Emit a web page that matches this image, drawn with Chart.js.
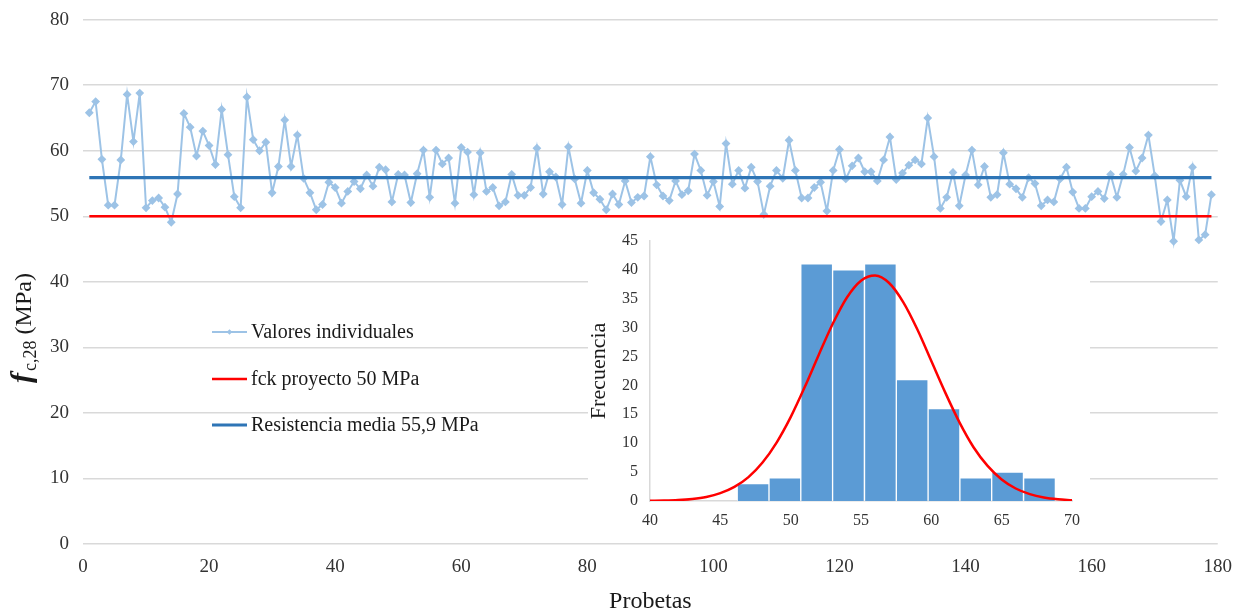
<!DOCTYPE html>
<html><head><meta charset="utf-8">
<script src="https://cdn.jsdelivr.net/npm/chart.js@4.4.1/dist/chart.umd.min.js"></script>
<style>
html,body{margin:0;padding:0;background:#fff;}
#wrap{position:relative;width:1244px;height:614px;overflow:hidden;}
#main{position:absolute;left:0;top:0;}
#inset{position:absolute;left:588px;top:224px;background:#fff;}
</style></head><body>
<div id="wrap"><canvas id="main" width="1244" height="614"></canvas><canvas id="inset" width="502" height="309"></canvas></div>
<script>
// ---- Main chart data ----
const valoresIndividuales = [
65.8,67.5,58.7,51.7,51.7,58.6,68.6,61.4,68.8,51.3,
52.4,52.8,51.4,49.1,53.4,65.7,63.6,59.2,63.0,60.8,
57.9,66.3,59.4,53.0,51.3,68.2,61.7,60.0,61.3,53.6,
57.6,64.7,57.6,62.4,55.8,53.6,51.0,51.8,55.2,54.4,
52.0,53.8,55.3,54.2,56.3,54.6,57.5,57.1,52.2,56.4,
56.3,52.1,56.5,60.1,52.9,60.1,58.0,58.9,52.0,60.5,
59.8,53.3,59.7,53.8,54.4,51.6,52.2,56.4,53.2,53.2,
54.4,60.4,53.4,56.8,56.0,51.8,60.6,55.7,52.0,57.0,
53.6,52.6,51.0,53.4,51.8,55.4,52.1,52.9,53.1,59.1,
54.8,53.1,52.4,55.4,53.3,53.9,59.5,57.0,53.2,55.3,
51.5,61.1,54.9,57.0,54.3,57.5,55.3,50.3,54.6,57.0,
55.8,61.6,57.0,52.8,52.8,54.4,55.2,50.8,57.0,60.2,
55.7,57.7,58.9,56.8,56.8,55.4,58.6,62.1,55.6,56.6,
57.8,58.6,58.0,65.0,59.1,51.2,52.9,56.7,51.6,56.3,
60.1,54.8,57.6,52.9,53.3,59.7,54.9,54.2,52.9,55.9,
55.0,51.6,52.5,52.2,55.7,57.5,53.7,51.2,51.2,53.0,
53.8,52.7,56.4,52.9,56.4,60.5,56.9,58.9,62.4,56.2,
49.2,52.5,46.2,55.5,53.0,57.5,46.4,47.2,53.3
];
const fckProyecto = 50;
const resistenciaMedia = 55.9;
const seriesLabels = ['Valores individuales','fck proyecto 50 MPa','Resistencia media 55,9 MPa'];
const xAxisTitle = 'Probetas';
const yTitleParts = ['f','c,28',' (MPa)'];

// ---- Inset histogram data ----
const binCenters = [47.33,49.59,51.85,54.11,56.38,58.64,60.90,63.16,65.42,67.69];
const binCounts  = [3,4,41,40,41,21,16,4,5,4];
const curveX = [40,41,42,43,44,45,46,47,48,49,50,51,52,53,54,55,56,57,58,59,60,61,62,63,64,65,66,67,68,69,70];
const curveY = [0.03,0.07,0.16,0.35,0.7,1.35,2.43,4.13,6.65,10.1,14.5,19.7,25.3,30.7,35.2,38.1,39.0,37.7,34.4,29.7,24.2,18.7,13.6,9.3,6.07,3.73,2.16,1.19,0.61,0.3,0.14];
const insetYTitle = 'Frecuencia';

const SERIF = "'Liberation Serif','Times New Roman',serif";
const n = valoresIndividuales.length;
const probetas = valoresIndividuales.map((v,i)=>({x:i+1,y:v}));

const legendPlugin = {
  id:'customLegend',
  afterDraw(chart){
    const ctx = chart.ctx;
    const ys = [332,379,425];
    chart.data.datasets.forEach((ds,i)=>{
      const y = ys[i];
      ctx.save();
      ctx.strokeStyle = ds.borderColor;
      ctx.lineWidth = i===0 ? 1.8 : (i===1 ? 2.6 : 3.2);
      ctx.beginPath(); ctx.moveTo(212,y); ctx.lineTo(247,y); ctx.stroke();
      if(i===0){
        ctx.fillStyle = ds.borderColor;
        ctx.beginPath(); ctx.moveTo(229.5,y-2.8); ctx.lineTo(232.3,y); ctx.lineTo(229.5,y+2.8); ctx.lineTo(226.7,y); ctx.closePath(); ctx.fill();
      }
      ctx.fillStyle = '#1a1a1a';
      ctx.font = '20px ' + SERIF;
      ctx.textBaseline = 'middle';
      ctx.textAlign = 'left';
      ctx.fillText(ds.label, 251, y+1);
      ctx.restore();
    });
    // y axis rich title
    ctx.save();
    ctx.translate(31, 328);
    ctx.rotate(-Math.PI/2);
    ctx.fillStyle = '#1a1a1a';
    ctx.textBaseline = 'alphabetic';
    const f1 = 'bold italic 30px ' + SERIF, f2 = '18px ' + SERIF, f3 = '24px ' + SERIF;
    ctx.font = f1; const w1 = ctx.measureText(yTitleParts[0]).width + 2;
    ctx.font = f2; const w2 = ctx.measureText(yTitleParts[1]).width;
    ctx.font = f3; const w3 = ctx.measureText(yTitleParts[2]).width;
    let sx = -(w1+w2+w3)/2;
    ctx.font = f1; ctx.fillText(yTitleParts[0], sx, 0); sx += w1;
    ctx.font = f2; ctx.fillText(yTitleParts[1], sx, 5); sx += w2;
    ctx.font = f3; ctx.fillText(yTitleParts[2], sx, 0);
    ctx.restore();
  }
};

new Chart(document.getElementById('main'), {
  type:'line',
  data:{
    datasets:[
      {label:seriesLabels[0], data:probetas, borderColor:'#9dc3e6', backgroundColor:'#9dc3e6', borderWidth:2,
       pointStyle:'rectRot', pointRadius:3, pointHoverRadius:3, tension:0, order:3},
      {label:seriesLabels[1], data:[{x:1,y:fckProyecto},{x:n,y:fckProyecto}], borderColor:'#ff0000', borderWidth:2.6, pointRadius:0, order:2},
      {label:seriesLabels[2], data:[{x:1,y:resistenciaMedia},{x:n,y:resistenciaMedia}], borderColor:'#2e75b6', borderWidth:3.4, pointRadius:0, order:1}
    ]
  },
  options:{
    responsive:false, animation:false, devicePixelRatio:1,
    layout:{padding:{top:18,right:25,left:0,bottom:0}},
    plugins:{legend:{display:false}, tooltip:{enabled:false}},
    scales:{
      x:{type:'linear', min:0, max:180,
         ticks:{stepSize:20, color:'#333', font:{family:SERIF,size:19}, padding:12},
         grid:{display:false, drawTicks:false}, border:{display:false},
         title:{display:true, text:xAxisTitle, color:'#1a1a1a', font:{family:SERIF,size:24,lineHeight:1}, padding:{top:0,bottom:0}},
         afterFit(s){ s.height = 70; }
      },
      y:{min:0, max:80,
         ticks:{stepSize:10, color:'#333', font:{family:SERIF,size:19,lineHeight:0.6}, padding:14},
         grid:{color:'#d9d9d9', lineWidth:1.5, drawTicks:false}, border:{display:false},
         afterFit(s){ s.width = 83; }
      }
    }
  },
  plugins:[legendPlugin]
});

new Chart(document.getElementById('inset'), {
  type:'bar',
  data:{
    datasets:[
      {type:'line', data:curveX.map((x,i)=>({x:x,y:curveY[i]})), borderColor:'#ff0000', borderWidth:2.5,
       pointRadius:0, cubicInterpolationMode:'monotone', order:0},
      {type:'bar', data:binCenters.map((x,i)=>({x:x,y:binCounts[i]})), backgroundColor:'#5b9bd5',
       borderColor:'rgba(255,255,255,0.55)', borderWidth:1, barPercentage:1, categoryPercentage:1, order:1}
    ]
  },
  options:{
    responsive:false, animation:false, devicePixelRatio:1,
    layout:{padding:{top:8,right:9,left:0,bottom:0}},
    plugins:{legend:{display:false}, tooltip:{enabled:false}},
    scales:{
      x:{type:'linear', min:40, max:70, offset:false,
         ticks:{stepSize:5, color:'#333', font:{family:SERIF,size:16}, padding:10},
         grid:{display:false, drawTicks:false}, border:{display:true, color:'#d9d9d9', width:1.5},
         afterFit(s){ s.height = 32; }
      },
      y:{min:0, max:45,
         ticks:{stepSize:5, color:'#333', font:{family:SERIF,size:16,lineHeight:0.6}, padding:12},
         grid:{display:false, drawTicks:false}, border:{display:true, color:'#d9d9d9', width:1.5},
         title:{display:true, text:insetYTitle, color:'#1a1a1a', font:{family:SERIF,size:22,lineHeight:1}, padding:{top:0,bottom:0}},
         afterFit(s){ s.width = 62; }
      }
    }
  }
});
</script>
</body></html>
